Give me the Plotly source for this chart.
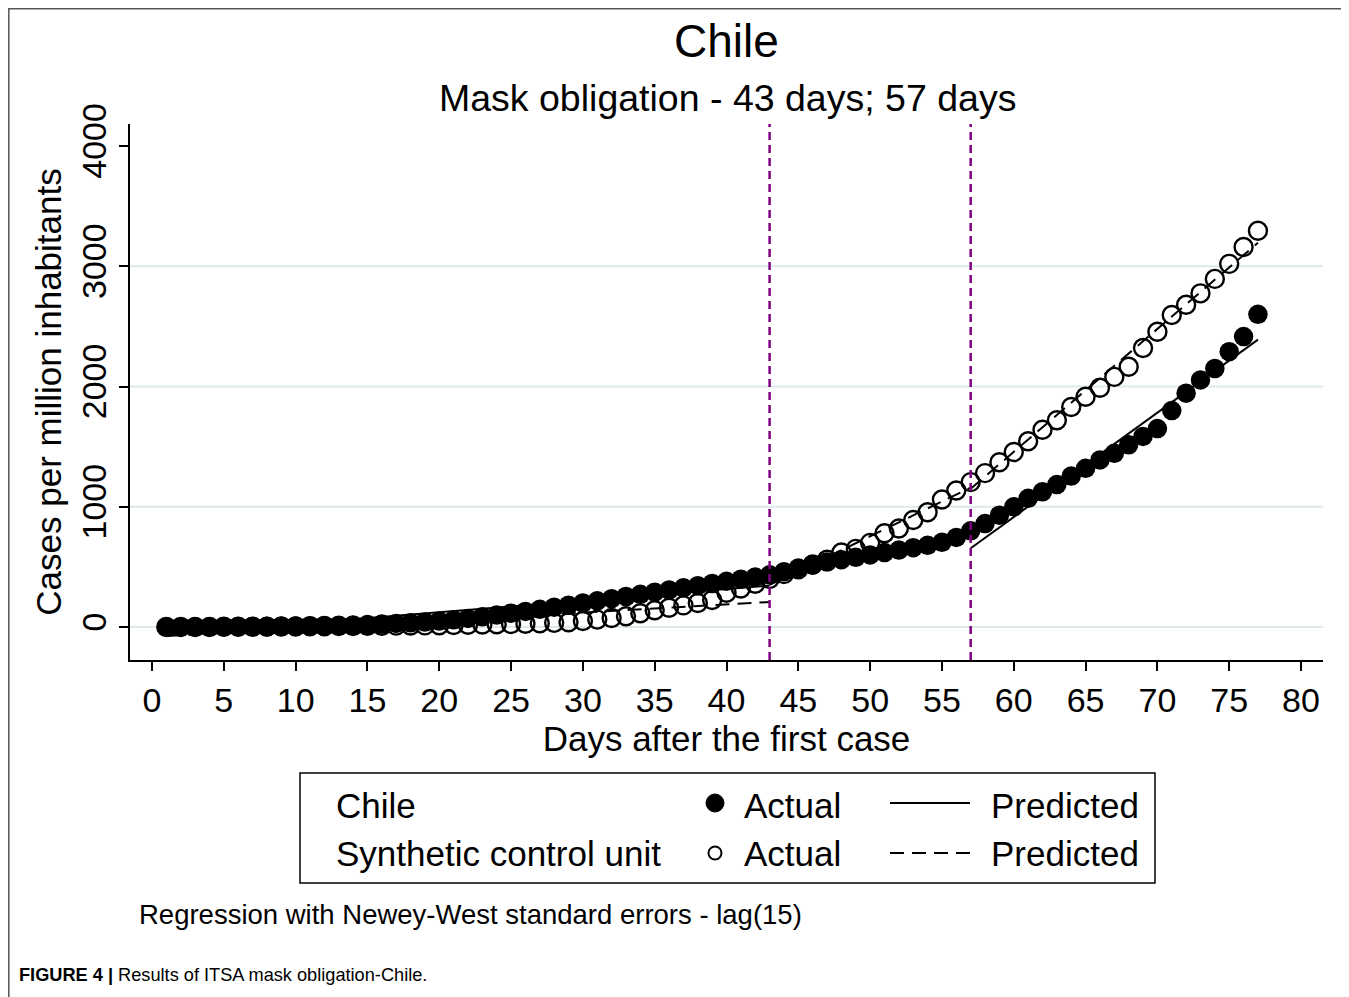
import plotly.graph_objects as go

# ---------------- data ----------------
days = list(range(1, 78))

chile_actual = [0, 1, 2, 2, 3, 4, 5, 6, 7, 9,
                11, 13, 15, 18, 21, 25, 30, 35, 42, 50,
                60, 72, 85, 100, 115, 130, 147, 165, 182, 200,
                218, 236, 254, 272, 290, 308, 326, 344, 362, 380,
                398, 416, 434, 460, 490, 515, 540, 560, 580, 600,
                620, 640, 660, 680, 705, 745, 800, 860, 930, 1000,
                1070, 1125, 1185, 1255, 1320, 1390, 1445, 1515, 1585, 1650,
                1800, 1945, 2055, 2150, 2290, 2415, 2600]

synth_actual = [0, 0, 1, 1, 2, 2, 3, 3, 4, 5,
                6, 7, 8, 9, 10, 11, 12, 13, 14, 15,
                17, 19, 21, 23, 25, 28, 31, 35, 40, 50,
                62, 75, 90, 115, 140, 160, 180, 200, 225, 285,
                320, 360, 400, 440, 480, 520, 560, 620, 650, 700,
                780, 820, 890, 955, 1060, 1135, 1205, 1280, 1370, 1455,
                1545, 1640, 1720, 1830, 1915, 1990, 2080, 2165, 2320, 2455,
                2595, 2680, 2775, 2895, 3020, 3160, 3295]

# predicted ITSA segments (start/end of each period, None = break)
pred_days = [1, 43, None, 43, 57, None, 57, 77]
chile_pred = [-60, 345, None, 430, 760, None, 655, 2390]
synth_pred = [-75, 208, None, 350, 1160, None, 1150, 3195]

interventions = [43, 57]
x_ticks = list(range(0, 81, 5))
y_ticks = [0, 1000, 2000, 3000, 4000]
grid_vals = [0, 1000, 2000, 3000]

title_text = "Chile"
subtitle_text = "Mask obligation - 43 days; 57 days"
x_title = "Days after the first case"
y_title = "Cases per million inhabitants"
note_text = "Regression with Newey-West standard errors - lag(15)"
caption_bold = "FIGURE 4 |"
caption_text = " Results of ITSA mask obligation-Chile."

# ---------------- layout geometry ----------------
OFF = 8                      # page body margin
W, H = 1349 - OFF, 997 - OFF
L, R, T, B = 130 - OFF, 1323 - OFF, 124 - OFF, 660 - OFF
FONT = "Liberation Sans, Arial, Helvetica, sans-serif"


def P(x, y):
    """screen pixel position -> paper coordinates"""
    x -= OFF
    y -= OFF
    return (x - L) / (R - L), (B - y) / (B - T)


fig = go.Figure()

fig.add_trace(go.Scatter(
    x=days, y=synth_actual, mode="markers",
    marker=dict(symbol="circle-open", size=18, color="black", line=dict(width=2.4)),
    showlegend=False, hoverinfo="skip"))
fig.add_trace(go.Scatter(
    x=days, y=chile_actual, mode="markers",
    marker=dict(symbol="circle", size=19.5, color="black"),
    showlegend=False, hoverinfo="skip"))
fig.add_trace(go.Scatter(
    x=pred_days, y=chile_pred, mode="lines",
    line=dict(color="black", width=2), connectgaps=False,
    showlegend=False, hoverinfo="skip"))
fig.add_trace(go.Scatter(
    x=pred_days, y=synth_pred, mode="lines",
    line=dict(color="black", width=2, dash="14px,8px"), connectgaps=False,
    showlegend=False, hoverinfo="skip"))

shapes = []
for v in grid_vals:
    shapes.append(dict(type="line", xref="paper", yref="y", x0=0, x1=1, y0=v, y1=v,
                       line=dict(color="#dde9ec", width=2), layer="below"))
for d in interventions:
    shapes.append(dict(type="line", xref="x", yref="paper", x0=d, x1=d, y0=0, y1=1,
                       line=dict(color="#800080", width=2.5, dash="8px,5px")))

# legend box
x0, y0 = P(300, 773)
x1, y1 = P(1155, 883)
shapes.append(dict(type="rect", xref="paper", yref="paper", x0=x0, y0=y0, x1=x1, y1=y1,
                   line=dict(color="black", width=1.5), fillcolor="white"))
# legend marker symbols
cx, cy = P(715, 803)
rx, ry = 9 / (R - L), 9 / (B - T)
shapes.append(dict(type="circle", xref="paper", yref="paper",
                   x0=cx - rx, x1=cx + rx, y0=cy - ry, y1=cy + ry,
                   fillcolor="black", line=dict(color="black", width=1)))
cx, cy = P(715, 853)
rx, ry = 6.5 / (R - L), 6.5 / (B - T)
shapes.append(dict(type="circle", xref="paper", yref="paper",
                   x0=cx - rx, x1=cx + rx, y0=cy - ry, y1=cy + ry,
                   fillcolor="rgba(0,0,0,0)", line=dict(color="black", width=2)))
# legend line samples
a0, b0 = P(890, 803)
a1, _ = P(970, 803)
shapes.append(dict(type="line", xref="paper", yref="paper", x0=a0, x1=a1, y0=b0, y1=b0,
                   line=dict(color="black", width=2)))
a0, b0 = P(890, 853)
a1, _ = P(970, 853)
shapes.append(dict(type="line", xref="paper", yref="paper", x0=a0, x1=a1, y0=b0, y1=b0,
                   line=dict(color="black", width=2, dash="14px,8px")))
# outer figure frame
fx0, fy0 = P(8.8, 997)
fx1, fy1 = P(8.8, 8.8)
fx2, _ = P(1349, 8.8)
shapes.append(dict(type="path", xref="paper", yref="paper",
                   path=f"M {fx0} {fy0} L {fx1} {fy1} L {fx2} {fy1}",
                   line=dict(color="#555555", width=1.5)))

annotations = []


def txt(text, x, y, size, xanchor="left", yanchor="middle", **kw):
    px, py = P(x, y)
    annotations.append(dict(text=text, x=px, y=py, xref="paper", yref="paper",
                            xanchor=xanchor, yanchor=yanchor, showarrow=False,
                            font=dict(family=FONT, size=size, color="black"), **kw))


txt(title_text, 726, 41, 46, xanchor="center")
txt(subtitle_text, 727, 98, 37.5, xanchor="center")
txt("Chile", 334, 805, 35)
txt("Synthetic control unit", 334, 853, 35)
txt("Actual", 742, 805, 35)
txt("Actual", 742, 853, 35)
txt("Predicted", 989, 805, 35)
txt("Predicted", 989, 853, 35)
txt(note_text, 137, 914, 27.5)
txt(f"<b>{caption_bold}</b>{caption_text}", 17, 975, 18.2)

fig.update_layout(
    width=W, height=H,
    margin=dict(l=L, r=W - R, t=T, b=H - B, pad=0),
    paper_bgcolor="white", plot_bgcolor="white",
    font=dict(family=FONT, size=35, color="black"),
    shapes=shapes, annotations=annotations,
    showlegend=False,
    xaxis=dict(range=[-1.532, 81.53], tickvals=x_ticks, ticks="outside", ticklen=9,
               tickwidth=1.5, tickcolor="black", showline=True, linecolor="black",
               linewidth=1.5, showgrid=False, zeroline=False,
               tickfont=dict(size=34),
               title=dict(text=x_title, font=dict(size=35), standoff=0)),
    yaxis=dict(range=[-274, 4183], tickvals=y_ticks, ticks="outside", ticklen=9,
               tickwidth=1.5, tickcolor="black", showline=True, linecolor="black",
               linewidth=1.5, showgrid=False, zeroline=False, tickangle=-90,
               tickfont=dict(size=34),
               title=dict(text=y_title, font=dict(size=35), standoff=2)),
)

fig.write_html("out.html")
